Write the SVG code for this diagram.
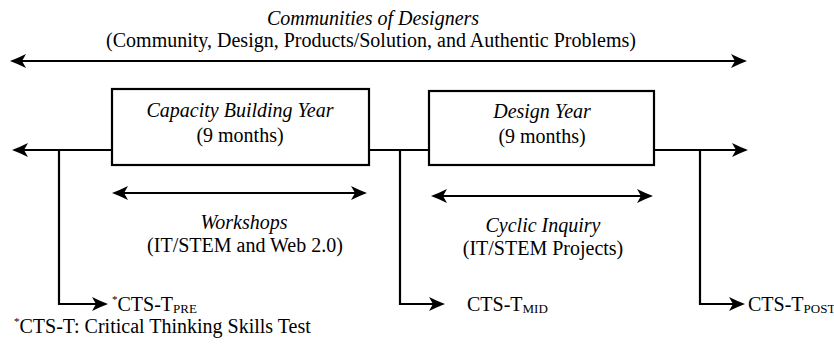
<svg xmlns="http://www.w3.org/2000/svg" width="834" height="348" viewBox="0 0 834 348" font-family="'Liberation Serif', 'DejaVu Serif', serif">
<style>
text{font-family:'Liberation Serif','DejaVu Serif',serif;font-size:20px;fill:#000}
.i{font-style:italic}
.c{text-anchor:middle}
.ln{fill:none;stroke:#000;stroke-width:2.2}
.bx{fill:#fff;stroke:#000;stroke-width:2.2}
.sub{font-size:13px}
.sup{font-size:11px}
</style>
<defs>
<marker id="ah" viewBox="0 -8 17 16" refX="4" refY="0" markerWidth="17" markerHeight="16" markerUnits="userSpaceOnUse" orient="auto-start-reverse">
<path d="M0,-7 Q8,-3 16,0 Q8,3 0,7 L4,0 Z" fill="#000"/>
</marker>
</defs>
<g id="connectors">
<line class="ln" x1="22" y1="61" x2="735" y2="61" marker-start="url(#ah)" marker-end="url(#ah)"/>
<line class="ln" x1="112" y1="150" x2="24" y2="150" marker-end="url(#ah)"/>
<line class="ln" x1="369" y1="150" x2="429" y2="150"/>
<line class="ln" x1="654" y1="150" x2="736" y2="150" marker-end="url(#ah)"/>
<line class="ln" x1="124" y1="193" x2="355" y2="193" marker-start="url(#ah)" marker-end="url(#ah)"/>
<line class="ln" x1="443" y1="196" x2="641" y2="196" marker-start="url(#ah)" marker-end="url(#ah)"/>
<polyline class="ln" points="59,150 59,304 96,304" marker-end="url(#ah)"/>
<polyline class="ln" points="400,150 400,304 433,304" marker-end="url(#ah)"/>
<polyline class="ln" points="700,150 700,304 733,304" marker-end="url(#ah)"/>
</g>
<g id="communities">
<text class="i c" x="373" y="25">Communities of Designers</text>
<text class="c" x="371" y="47">(Community, Design, Products/Solution, and Authentic Problems)</text>
</g>
<g id="capacity-building-year">
<rect class="bx" x="112" y="89" width="257" height="76"/>
<text class="i c" x="240" y="117">Capacity Building Year</text>
<text class="c" x="240" y="142">(9 months)</text>
</g>
<g id="design-year">
<rect class="bx" x="429" y="91" width="225" height="74"/>
<text class="i c" x="542" y="118">Design Year</text>
<text class="c" x="542" y="143">(9 months)</text>
</g>
<g id="workshops">
<text class="i c" x="244" y="229">Workshops</text>
<text class="c" x="245" y="252">(IT/STEM and Web 2.0)</text>
</g>
<g id="cyclic-inquiry">
<text class="i c" x="543" y="232">Cyclic Inquiry</text>
<text class="c" x="543" y="255">(IT/STEM Projects)</text>
</g>
<g id="cts-pre">
<text x="112" y="311"><tspan class="sup" dy="-8">*</tspan><tspan dy="8">CTS-T</tspan><tspan class="sub" dy="2">PRE</tspan></text>
</g>
<g id="cts-mid">
<text x="467" y="311">CTS-T<tspan class="sub" dy="2">MID</tspan></text>
</g>
<g id="cts-post">
<text x="748" y="311">CTS-T<tspan class="sub" dy="2">POST</tspan></text>
</g>
<g id="footnote">
<text x="14" y="333"><tspan class="sup" dy="-8">*</tspan><tspan dy="8">CTS-T: Critical Thinking Skills Test</tspan></text>
</g>
</svg>
